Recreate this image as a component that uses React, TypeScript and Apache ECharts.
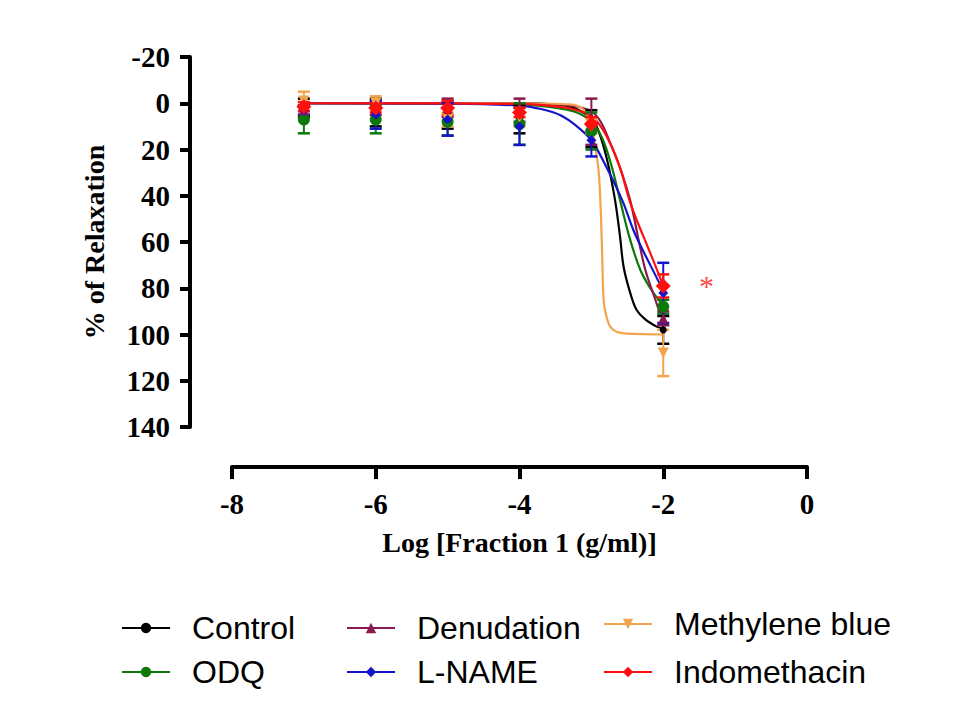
import React, { useEffect, useRef } from 'react';
import * as echarts from 'echarts';

// ---- data ----
const doses = [-7, -6, -5, -4, -3, -2];

const controlMean = [2, 4, 5, 7, 11, 98];
const controlErr = [4, 6, 6, 6, 8, 6];
const odqMean = [7, 7, 8, 9, 12, 88];
const odqErr = [6, 6, 6, 9, 8, 3];
const denudMean = [3, 2, 2, 3, 8, 93];
const denudErr = [2, 3, 4, 5, 10, 3];
const mbMean = [-1, 0, 7, 6, 10, 108];
const mbErr = [4, 3, 3, 4, 3, 10];
const lnameMean = [3, 5, 7, 10, 16, 82];
const lnameErr = [2, 6, 7, 8, 7, 13];
const indoMean = [1.5, 2, 2, 4, 9, 79];
const indoErr = [2, 2, 3, 2, 3, 5];

// fitted curves, points
const controlCurveX = [-7, -4, -3.5, -3.25, -3, -2.9, -2.78, -2.67, -2.6, -2.55, -2.45, -2.37, -2.25, -2.09, -2];
const controlCurveY = [0, 0, 0.5, 2, 6.5, 12, 24.6, 42, 58, 71, 83, 89.4, 93.5, 96.6, 97.5];
const odqCurveX = [-7, -4, -3.43, -3.2, -3, -2.85, -2.72, -2.6, -2.47, -2.32, -2.18, -2.04, -2];
const odqCurveY = [0, 0.5, 2.3, 4, 8, 15, 27, 42, 58, 72, 80, 86, 87.5];
const denudCurveX = [-7, -4, -3.5, -3.2, -3, -2.87, -2.74, -2.6, -2.46, -2.35, -2.25, -2.12, -2.04, -2];
const denudCurveY = [0, 0, 0.5, 1.5, 3.5, 8, 17, 28, 42, 58, 72, 84, 91, 92.5];
const mbCurveX = [-7, -4, -3.3, -3.1, -3, -2.95, -2.9, -2.875, -2.85, -2.83, -2.8, -2.74, -2.65, -2.5, -2];
const mbCurveY = [0, 0, 0.5, 3, 10, 18, 29, 42, 65, 85, 91, 96.5, 98.8, 99.6, 100];
const lnameCurveX = [-7, -5, -4, -3.7, -3.43, -3.2, -3, -2.8, -2.57, -2.4, -2.18, -2];
const lnameCurveY = [0, 0.2, 1, 2.5, 5.2, 10, 16, 27, 42, 56, 70, 81];
const indoCurveX = [-7, -4, -3.43, -3.2, -3, -2.85, -2.7, -2.58, -2.47, -2.35, -2.23, -2.1, -2];
const indoCurveY = [0, 0.3, 1.6, 3, 5.5, 11, 20, 30, 42, 52, 61, 71, 79];

const asteriskPoint = [-1.4, 79];

const yTicks = [-20, 0, 20, 40, 60, 80, 100, 120, 140];
const xTicks = [-8, -6, -4, -2, 0];

const groups = [
  { name: 'Control', mean: controlMean, err: controlErr, cx: controlCurveX, cy: controlCurveY, color: '#000000', symbol: 'circle', size: 7, rotate: 0 },
  { name: 'ODQ', mean: odqMean, err: odqErr, cx: odqCurveX, cy: odqCurveY, color: '#0b7a0b', symbol: 'circle', size: 12, rotate: 0 },
  { name: 'Denudation', mean: denudMean, err: denudErr, cx: denudCurveX, cy: denudCurveY, color: '#8a1a4e', symbol: 'triangle', size: 10, rotate: 0 },
  { name: 'Methylene blue', mean: mbMean, err: mbErr, cx: mbCurveX, cy: mbCurveY, color: '#f2a54e', symbol: 'triangle', size: 11, rotate: 180 },
  { name: 'L-NAME', mean: lnameMean, err: lnameErr, cx: lnameCurveX, cy: lnameCurveY, color: '#1414c8', symbol: 'diamond', size: 10, rotate: 0 },
  { name: 'Indomethacin', mean: indoMean, err: indoErr, cx: indoCurveX, cy: indoCurveY, color: '#ff1010', symbol: 'diamond', size: 15, rotate: 0 },
];

export default function App() {
  const ref = useRef<HTMLDivElement>(null);
  useEffect(() => {
    if (!ref.current) return;
    const chart = echarts.init(ref.current, null, { renderer: 'svg' });
    const serif = 'Liberation Serif, Times New Roman, serif';
    const sans = 'Liberation Sans, Arial, sans-serif';

    const lineSeries = groups.map((g) => ({
      type: 'line',
      name: g.name,
      data: g.cx.map((x, i) => [x, g.cy[i]]),
      smooth: 0.35,
      symbol: g.symbol,
      symbolRotate: g.rotate,
      symbolSize: g.size,
      showSymbol: false,
      lineStyle: { color: g.color, width: 2.2 },
      itemStyle: { color: g.color },
      z: 2,
      silent: true,
    }));

    const errSeries = groups.map((g) => ({
      type: 'custom',
      name: g.name,
      data: doses.map((d, i) => [d, g.mean[i] - g.err[i], g.mean[i] + g.err[i]]),
      encode: { x: 0, y: [1, 2] },
      z: 3,
      silent: true,
      renderItem: (params: any, api: any) => {
        const x = api.value(0);
        const p1 = api.coord([x, api.value(1)]);
        const p2 = api.coord([x, api.value(2)]);
        const w = 6;
        const style = { stroke: g.color, lineWidth: 2 };
        return {
          type: 'group',
          children: [
            { type: 'line', shape: { x1: p1[0], y1: p1[1], x2: p2[0], y2: p2[1] }, style },
            { type: 'line', shape: { x1: p1[0] - w, y1: p1[1], x2: p1[0] + w, y2: p1[1] }, style: { stroke: g.color, lineWidth: 2.5 } },
            { type: 'line', shape: { x1: p2[0] - w, y1: p2[1], x2: p2[0] + w, y2: p2[1] }, style: { stroke: g.color, lineWidth: 2.5 } },
          ],
        };
      },
    }));

    const pointSeries = groups.map((g) => ({
      type: 'scatter',
      name: g.name,
      data: doses.map((d, i) => [d, g.mean[i]]),
      symbol: g.symbol,
      symbolRotate: g.rotate,
      symbolSize: g.size,
      itemStyle: { color: g.color, opacity: 1 },
      z: 4,
      silent: true,
    }));

    const asteriskSeries = {
      type: 'scatter',
      name: 'asterisk',
      data: [asteriskPoint],
      symbolSize: 0,
      silent: true,
      z: 5,
      label: {
        show: true,
        position: 'inside',
        formatter: '*',
        color: '#ff1010',
        fontSize: 30,
        fontFamily: serif,
      },
    };

    const legendText = { fontSize: 32, fontFamily: sans, color: '#000', padding: [0, 0, 0, 17] };
    const legendBase = {
      orient: 'vertical',
      itemWidth: 48,
      itemHeight: 13,
      itemGap: 12,
      selectedMode: false,
      textStyle: legendText,
    };

    chart.setOption({
      animation: false,
      backgroundColor: '#ffffff',
      grid: { left: 232, right: 153, top: 57, bottom: 293, containLabel: false },
      legend: [
        { ...legendBase, left: 116, top: 607, data: ['Control', 'ODQ'] },
        { ...legendBase, left: 341, top: 607, data: ['Denudation', 'L-NAME'] },
        { ...legendBase, left: 598, top: 603, itemGap: 16, data: ['Methylene blue', 'Indomethacin'] },
      ],
      xAxis: {
        type: 'value',
        min: xTicks[0],
        max: xTicks[xTicks.length - 1],
        interval: 2,
        offset: 40,
        name: 'Log [Fraction 1 (g/ml)]',
        nameLocation: 'middle',
        nameGap: 61,
        nameTextStyle: { fontSize: 28, fontWeight: 'bold', fontFamily: serif, color: '#000' },
        axisLine: { show: true, onZero: false, lineStyle: { color: '#000', width: 4 } },
        axisTick: { show: true, inside: false, length: 12, lineStyle: { color: '#000', width: 4 } },
        axisLabel: { margin: 22, fontSize: 29, fontWeight: 'bold', fontFamily: serif, color: '#000' },
        splitLine: { show: false },
      },
      yAxis: {
        type: 'value',
        inverse: true,
        min: yTicks[0],
        max: yTicks[yTicks.length - 1],
        interval: 20,
        offset: 42,
        name: '% of Relaxation',
        nameLocation: 'middle',
        nameGap: 82,
        nameTextStyle: { fontSize: 28, fontWeight: 'bold', fontFamily: serif, color: '#000' },
        axisLine: { show: true, onZero: false, lineStyle: { color: '#000', width: 4 } },
        axisTick: { show: true, inside: false, length: 10, lineStyle: { color: '#000', width: 4 } },
        axisLabel: { margin: 20, fontSize: 29, fontWeight: 'bold', fontFamily: serif, color: '#000' },
        splitLine: { show: false },
      },
      series: [...lineSeries, ...errSeries, ...pointSeries, asteriskSeries],
    });
    return () => chart.dispose();
  }, []);

  return (
    <div
      ref={ref}
      style={{ position: 'fixed', left: 0, top: 0, width: 960, height: 720, background: '#fff' }}
    />
  );
}
